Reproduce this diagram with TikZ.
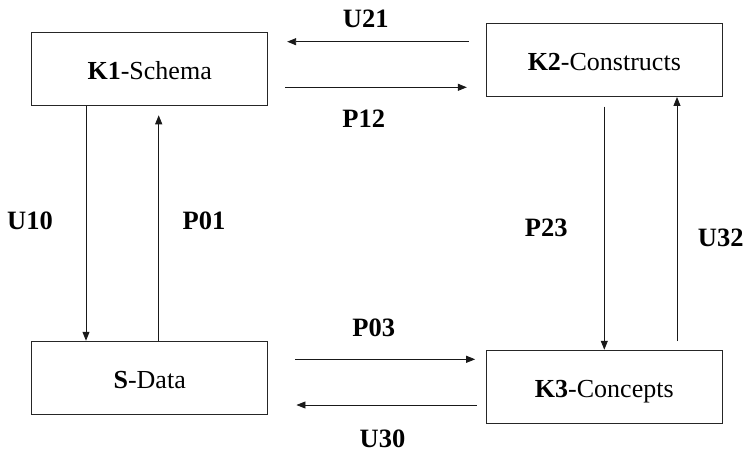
\documentclass[tikz,border=0pt]{standalone}
\usepackage{fontspec}
\setmainfont{Liberation Serif}
\usetikzlibrary{arrows.meta}
\begin{document}
\begin{tikzpicture}[x=1pt,y=-1pt,
  stage/.style={draw=black!85, line width=0.9pt, minimum width=236pt, minimum height=73pt,
    inner sep=0pt, text height=21.7pt, text depth=0pt, font=\fontsize{26}{28}\selectfont},
  flowlabel/.style={inner sep=0pt, text height=17.5pt, text depth=0pt,
    font=\fontsize{26.5}{28}\selectfont\bfseries},
  flow/.style={line width=0.9pt, draw=black!90, -{Triangle[length=9pt,width=7pt]}}]
\useasboundingbox (0,0) rectangle (744,455);

% the four stages
\node[stage] (K1) at (149.7,69)    {\textbf{K1}-Schema};
\node[stage] (K2) at (604.3,60)    {\textbf{K2}-Constructs};
\node[stage] (S)  at (149.7,377.7) {\textbf{S}-Data};
\node[stage] (K3) at (604.3,386.7) {\textbf{K3}-Concepts};

% horizontal transitions
\draw[flow, shorten <=17.3pt, shorten >=19pt]
  ([yshift=18.3pt]K2.west) -- ([yshift=18.3pt]K2.west -| K1.east);
\draw[flow, shorten <=17.3pt, shorten >=19pt]
  ([yshift=-18.3pt]K1.east) -- ([yshift=-18.3pt]K1.east -| K2.west);
\draw[flow, shorten <=27.3pt, shorten >=10.7pt]
  ([yshift=18.4pt]S.east) -- ([yshift=18.4pt]S.east -| K3.west);
\draw[flow, shorten <=9pt, shorten >=28.3pt]
  ([yshift=-18.3pt]K3.west) -- ([yshift=-18.3pt]K3.west -| S.east);

% vertical transitions
\draw[flow]
  ([xshift=-63.7pt]K1.south) -- ([xshift=-63.7pt]K1.south |- S.north);
\draw[flow, shorten >=9.3pt]
  ([xshift=9pt]S.north) -- ([xshift=9pt]S.north |- K1.south);
\draw[flow, shorten <=9.7pt] (K2.south) -- (K3.north);
\draw[flow, shorten <=8.6pt]
  ([xshift=72.7pt]K3.north) -- ([xshift=72.7pt]K3.north |- K2.south);

% transition labels
\node[flowlabel] (lU21) at (365.8,19.2)  {U21};
\node[flowlabel] (lP12) at (363.8,119.2) {P12};
\node[flowlabel] (lU10) at (30,220.8)    {U10};
\node[flowlabel] (lP01) at (204,220.8)   {P01};
\node[flowlabel] (lP23) at (546.2,227.8) {P23};
\node[flowlabel] (lU32) at (720.8,237.5) {U32};
\node[flowlabel] (lP03) at (373.8,327.5) {P03};
\node[flowlabel] (lU30) at (382.5,439.2) {U30};
\end{tikzpicture}
\end{document}
